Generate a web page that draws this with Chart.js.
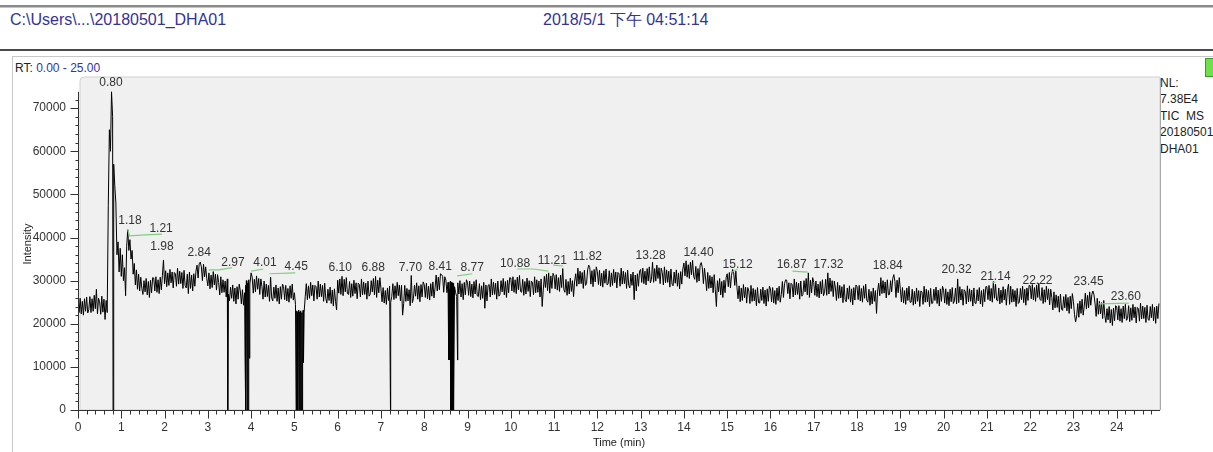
<!DOCTYPE html>
<html>
<head>
<meta charset="utf-8">
<title>TIC 20180501_DHA01</title>
<script src="https://cdn.jsdelivr.net/npm/chart.js@4.4.1/dist/chart.umd.min.js"></script>
<style>
  body { margin: 0; background: #fff; width: 1213px; height: 452px; overflow: hidden; position: relative;
         font-family: "Liberation Sans", Arial, sans-serif; }
  .abs { position: absolute; white-space: pre; }
  #bar1 { left: 0; top: 5px; width: 1213px; height: 2px; background: #8a8a8a; border-bottom: 1px solid #c4c4c4; }
  #file, #stamp { top: 11px; font-size: 16px; line-height: 18px; color: #33339a; }
  #file { left: 10px; }
  #stamp { left: 543px; }
  #bar2 { left: 0; top: 49px; width: 1213px; height: 2px; background: #4a4a4a; }
  #box { left: 12px; top: 56px; width: 1210px; height: 400px; border: 1px solid #c8c8c8; }
  #rt { left: 15px; top: 61px; font-size: 12px; line-height: 14px; color: #222; }
  #rt span { color: #3333aa; }
  #badge { left: 1205px; top: 58px; width: 10px; height: 17px; background: #6fe04c; border: 1px solid #3d9a2a; }
  #nl { left: 1160px; top: 75px; font-size: 12px; line-height: 16.4px; color: #222; }
  #c { position: absolute; left: 0; top: 0; }
</style>
</head>
<body>
<div class="abs" id="bar1"></div>
<div class="abs" id="file">C:\Users\...\20180501_DHA01</div>
<div class="abs" id="stamp">2018/5/1 下午 04:51:14</div>
<div class="abs" id="bar2"></div>
<div class="abs" id="box"></div>
<div class="abs" id="rt">RT: <span>0.00 - 25.00</span></div>
<div class="abs" id="badge"></div>
<div class="abs" id="nl">NL:
7.38E4
TIC  MS
20180501
DHA01</div>
<canvas id="c" width="1213" height="452"></canvas>
<script>
// one scan every 0.025 min, intensity in thousands of counts, one row per minute
const scanStep = 0.025;
const ticK = [
  25.6, 22.6, 25.9, 22.3, 25.2, 22.0, 25.8, 22.9, 26.2, 22.5, 23.3, 26.3, 22.6, 25.8, 22.9, 26.6, 23.5, 28.0, 22.3, 25.9,
  25.1, 22.2, 26.4, 22.7, 25.7, 21.0, 25.4, 22.6, 47.5, 65.0, 60.0, 73.8, 68.0, 57.0, 52.0, 48.0, 36.0, 39.0, 32.0, 37.5,
  31.0, 36.0, 30.0, 33.0, 26.5, 38.0, 41.8, 37.0, 39.5, 35.0, 37.0, 31.5, 34.0, 29.0, 32.5, 28.0, 31.5, 27.6, 30.8, 28.2,
  26.8, 30.0, 27.4, 30.5, 26.7, 29.8, 26.1, 30.1, 27.2, 30.7, 30.6, 27.6, 30.9, 27.3, 30.2, 27.0, 30.8, 27.9, 31.2, 34.8,
  29.3, 32.3, 28.6, 31.8, 28.9, 32.6, 29.5, 32.0, 28.3, 31.9, 31.6, 28.7, 32.9, 29.2, 32.2, 29.3, 31.9, 28.2, 32.4, 28.9,
  28.3, 31.5, 27.0, 32.0, 28.2, 31.3, 27.6, 31.6, 28.7, 32.2, 33.6, 30.6, 33.9, 34.3, 33.2, 30.0, 33.8, 30.9, 33.2, 30.5,
  28.8, 31.8, 28.1, 31.3, 28.4, 32.1, 29.0, 31.5, 27.8, 31.4, 29.6, 26.7, 30.9, 27.2, 30.2, 27.3, 29.9, 26.2, 30.4, 26.9,
  25.3, 28.5, 25.9, 29.0, 25.2, 28.3, 24.6, 28.6, 25.7, 29.2, 27.6, 24.6, 27.9, 24.3, 27.2, 24.0, 27.8, 24.9, 28.2, 29.5,
  31.8, 30.8, 27.1, 30.3, 27.4, 31.1, 28.0, 30.5, 26.8, 30.4, 28.6, 25.7, 29.9, 26.2, 29.2, 26.3, 28.9, 25.2, 30.8, 26.0,
  25.3, 28.5, 25.9, 29.0, 25.2, 28.3, 24.6, 28.6, 25.7, 29.2, 28.6, 25.6, 28.9, 25.3, 28.2, 25.0, 28.8, 25.9, 29.2, 25.5,
  27.2, 24.5, 23.0, 22.6, 23.2, 22.8, 23.0, 22.5, 23.1, 22.7, 26.3, 29.3, 25.6, 28.8, 25.9, 29.6, 26.5, 29.0, 25.3, 28.9,
  28.6, 25.7, 29.9, 26.2, 29.2, 26.3, 28.9, 25.2, 29.4, 25.9, 24.8, 28.0, 25.4, 28.5, 24.7, 27.8, 24.1, 28.1, 25.2, 23.2,
  30.1, 27.1, 30.4, 26.8, 31.0, 26.5, 30.3, 27.4, 30.7, 27.0, 26.8, 29.8, 26.1, 29.3, 26.4, 30.1, 27.0, 29.5, 25.8, 29.4,
  29.1, 26.2, 30.4, 26.7, 29.7, 26.8, 29.4, 25.7, 29.9, 26.4, 26.8, 30.0, 27.4, 30.5, 26.7, 31.0, 26.1, 30.1, 27.2, 30.7,
  28.1, 25.1, 28.4, 24.8, 27.7, 24.5, 28.3, 25.4, 28.7, 25.0, 26.3, 29.3, 25.6, 28.8, 25.9, 29.6, 26.5, 29.0, 25.3, 28.9,
  22.0, 24.7, 28.9, 25.2, 28.2, 25.3, 27.9, 24.2, 31.2, 24.9, 25.8, 29.0, 26.4, 29.5, 25.7, 28.8, 25.1, 29.1, 26.2, 29.7,
  29.1, 26.1, 29.4, 25.8, 28.7, 25.5, 29.3, 26.4, 29.7, 26.0, 28.3, 31.3, 27.6, 30.8, 27.9, 31.6, 31.4, 31.0, 27.3, 30.9,
  30.1, 27.2, 29.6, 28.0, 29.8, 27.4, 29.5, 27.0, 28.6, 27.2, 26.3, 29.5, 26.9, 30.0, 26.2, 29.3, 25.6, 29.6, 26.7, 30.2,
  29.6, 26.6, 29.9, 26.3, 29.2, 26.0, 29.8, 26.9, 30.2, 26.5, 26.3, 29.3, 25.6, 28.8, 25.9, 29.6, 23.6, 29.0, 25.3, 28.9,
  29.1, 26.2, 30.4, 26.7, 29.7, 26.8, 29.4, 25.7, 29.9, 26.4, 26.8, 30.0, 27.4, 30.5, 26.7, 29.8, 26.1, 30.1, 27.2, 30.7,
  30.6, 27.6, 30.9, 27.3, 30.2, 27.0, 30.8, 27.9, 31.2, 27.5, 27.3, 30.3, 26.6, 29.8, 26.9, 30.6, 27.5, 30.0, 26.3, 29.9,
  29.6, 26.7, 30.9, 27.2, 30.2, 27.3, 29.9, 26.2, 30.4, 24.0, 27.8, 31.0, 28.4, 31.5, 27.7, 31.8, 27.1, 31.1, 28.2, 31.7,
  31.1, 28.1, 31.4, 27.8, 30.7, 27.5, 31.3, 28.4, 32.8, 28.0, 27.3, 30.3, 26.6, 29.8, 26.9, 30.6, 27.5, 30.0, 26.3, 29.9,
  31.6, 28.7, 32.9, 29.2, 32.2, 29.3, 31.9, 28.2, 32.4, 28.9, 29.3, 32.5, 33.6, 33.0, 29.2, 32.3, 28.6, 32.6, 29.7, 33.2,
  32.1, 29.1, 32.4, 28.8, 31.7, 28.5, 32.3, 29.4, 32.7, 29.0, 29.3, 32.3, 28.6, 31.8, 28.9, 32.6, 29.5, 32.0, 28.3, 31.9,
  31.6, 28.7, 32.9, 29.2, 32.2, 29.3, 31.9, 28.2, 32.4, 28.9, 28.3, 31.5, 28.9, 32.0, 25.6, 31.3, 27.6, 31.6, 28.7, 32.2,
  32.6, 29.6, 32.9, 29.3, 32.2, 29.0, 32.8, 29.9, 33.2, 29.5, 30.3, 34.3, 29.6, 32.8, 29.9, 33.6, 30.5, 33.0, 29.3, 32.9,
  31.9, 29.0, 33.2, 29.5, 32.5, 29.6, 32.2, 28.5, 32.7, 29.2, 28.8, 32.0, 29.4, 32.5, 28.7, 31.8, 28.1, 32.1, 29.2, 32.7,
  34.1, 31.1, 34.6, 30.8, 33.7, 30.5, 34.3, 31.4, 34.7, 31.0, 30.3, 33.3, 29.6, 32.8, 29.9, 33.6, 34.2, 33.0, 29.3, 32.9,
  30.6, 27.7, 31.9, 28.2, 31.2, 28.3, 30.9, 27.2, 31.4, 27.9, 24.0, 30.0, 27.4, 30.5, 26.7, 29.8, 26.1, 30.1, 27.2, 30.7,
  31.6, 28.6, 31.9, 28.3, 31.2, 32.6, 31.8, 28.9, 32.2, 28.5, 25.8, 28.8, 25.1, 28.3, 25.4, 29.1, 26.0, 28.5, 24.8, 28.4,
  27.6, 24.7, 28.9, 25.2, 28.2, 25.3, 27.9, 24.2, 28.4, 24.9, 24.8, 28.0, 25.4, 28.5, 24.7, 27.8, 24.1, 28.1, 25.2, 28.7,
  28.1, 25.1, 28.4, 24.8, 27.7, 24.5, 28.3, 25.4, 28.7, 25.0, 26.8, 29.8, 26.1, 29.3, 30.2, 30.1, 27.0, 29.5, 25.8, 29.4,
  29.1, 26.2, 30.4, 26.7, 29.7, 26.8, 29.4, 25.7, 29.9, 26.4, 26.8, 30.0, 27.4, 30.5, 26.7, 31.8, 26.1, 30.1, 27.2, 30.7,
  29.6, 26.6, 29.9, 26.3, 29.2, 26.0, 29.8, 26.9, 30.2, 26.5, 27.3, 30.3, 26.6, 31.8, 26.9, 30.6, 27.5, 30.0, 26.3, 29.9,
  28.3, 25.4, 29.6, 25.9, 28.9, 26.0, 28.6, 24.9, 29.1, 25.6, 25.1, 28.3, 25.7, 28.8, 25.0, 28.1, 24.4, 28.4, 25.5, 29.0,
  28.6, 25.6, 28.9, 25.3, 28.2, 25.0, 28.8, 25.9, 29.2, 25.5, 25.0, 28.0, 24.3, 27.5, 24.6, 28.3, 25.2, 27.7, 22.4, 27.6,
  29.4, 26.5, 30.7, 27.0, 30.0, 27.1, 29.7, 26.0, 30.2, 26.7, 26.8, 30.0, 27.4, 30.5, 31.4, 29.8, 26.1, 30.1, 27.2, 30.7,
  28.1, 25.1, 28.4, 24.8, 27.7, 24.5, 28.3, 25.4, 28.7, 25.0, 25.0, 28.0, 24.3, 27.5, 24.6, 28.3, 25.2, 27.7, 24.0, 27.6,
  27.4, 24.5, 28.7, 25.0, 28.0, 25.1, 27.7, 24.0, 28.2, 24.7, 24.8, 28.0, 25.4, 28.5, 24.7, 27.8, 24.1, 28.1, 25.2, 28.7,
  27.8, 24.8, 28.1, 24.5, 27.4, 24.2, 28.0, 25.1, 28.4, 24.7, 25.3, 28.3, 24.6, 30.4, 24.9, 28.6, 25.5, 28.0, 24.3, 27.9,
  27.5, 24.6, 28.8, 25.1, 28.1, 25.2, 27.8, 24.1, 28.3, 24.8, 24.7, 27.9, 25.3, 28.4, 24.6, 27.7, 24.0, 28.0, 25.1, 28.6,
  28.6, 25.6, 28.9, 25.3, 28.2, 25.0, 29.8, 25.9, 29.2, 25.5, 25.3, 28.3, 24.6, 27.8, 24.9, 28.6, 25.5, 28.0, 24.3, 27.9,
  29.2, 24.5, 28.7, 25.0, 28.0, 25.1, 27.7, 24.0, 28.2, 24.7, 25.0, 28.2, 25.6, 28.7, 24.9, 28.0, 24.3, 28.3, 25.4, 28.9,
  28.8, 25.8, 29.1, 25.5, 28.4, 25.2, 29.0, 26.1, 29.4, 25.7, 25.4, 28.4, 24.7, 27.9, 25.0, 28.7, 25.6, 28.1, 24.4, 28.0,
  26.1, 23.2, 27.4, 23.7, 26.7, 23.8, 26.4, 22.7, 26.9, 23.4, 23.1, 26.3, 23.7, 26.8, 23.0, 26.1, 22.4, 26.4, 23.5, 27.0,
  25.1, 22.1, 20.4, 21.8, 24.7, 21.5, 25.3, 22.4, 25.7, 22.0, 24.1, 27.1, 23.4, 26.6, 23.7, 27.4, 24.3, 26.8, 27.6, 26.7,
  24.6, 21.7, 25.9, 22.2, 25.2, 22.3, 24.9, 21.2, 25.4, 21.9, 20.3, 23.5, 20.9, 24.0, 20.2, 23.3, 19.6, 23.6, 20.7, 24.2,
  23.9, 20.9, 24.2, 20.6, 23.5, 20.3, 24.1, 21.2, 24.5, 20.8, 21.2, 24.2, 20.5, 23.7, 20.8, 24.5, 21.4, 23.9, 20.2, 23.8,
  23.5, 20.6, 24.8, 21.1, 24.1, 21.2, 23.8, 20.3, 24.3, 21.0, 20.8, 24.0, 21.4, 24.5, 20.7, 23.8, 20.1, 24.1, 21.2, 24.7
];

// extra scans where the signal drops out (min / thousands)
const dropT = [0.81, 3.46, 3.86, 3.87, 3.88, 3.89, 3.91, 3.92, 3.93, 3.94, 3.96, 3.97,
  5.04, 5.06, 5.07, 5.08, 5.09, 5.11, 5.12, 5.13, 5.14, 5.16, 5.17, 5.18, 5.19, 5.21,
  7.22, 8.56, 8.57, 8.58, 8.61, 8.62, 8.63, 8.64, 8.66, 8.67, 8.68, 8.77];
const dropK = [0, 0, 12.0, 29.0, 0, 30.0, 0, 29.5, 0, 30.2, 12.0, 29.0,
  0, 0, 22.6, 0, 23.0, 0, 22.8, 0, 22.4, 0, 22.6, 0, 10.9, 10.9,
  0, 11.6, 29.5, 11.6, 0, 29.6, 0, 29.2, 0, 29.4, 0, 11.6];

// peak labels: text, where it sits (min), height (thousands)
const peakText = ['0.80', '1.18', '1.21', '1.98', '2.84', '2.97', '4.01', '4.45', '6.10', '6.88', '7.70', '8.41', '8.77',
  '10.88', '11.21', '11.82', '13.28', '14.40', '15.12', '16.87', '17.32', '18.84', '20.32', '21.14', '22.22', '23.45', '23.60'];
const peakLabelRT = [0.76, 1.20, 1.92, 1.94, 2.80, 3.58, 4.32, 5.04, 6.06, 6.82, 7.68, 8.37, 9.11,
  10.10, 10.96, 11.77, 13.23, 14.34, 15.24, 16.49, 17.34, 18.71, 20.30, 21.20, 22.17, 23.35, 24.21];
const peakLabelK = [75.9, 43.8, 42.0, 37.8, 36.4, 34.1, 34.1, 33.2, 32.9, 32.9, 32.9, 33.2, 32.9,
  33.9, 34.6, 35.5, 35.7, 36.4, 33.6, 33.6, 33.6, 33.4, 32.5, 30.9, 29.9, 29.7, 26.2];

// green baselines under integrated peaks
const baseT = [[1.15, 1.19, 1.55, 1.94], [3.02, 3.25, 3.56], [4.00, 4.28], [4.42, 5.02], [8.76, 9.11],
  [10.15, 10.52, 10.87], [10.98, 11.21], [15.12, 15.24], [16.51, 16.86], [21.13, 21.20], [23.58, 24.28]];
const baseK = [[41.8, 40.4, 40.6, 40.8], [32.5, 32.5, 33.0], [32.2, 32.7], [31.6, 31.8], [31.1, 31.6],
  [32.7, 32.7, 32.2], [33.6, 33.4], [32.0, 32.7], [32.2, 32.0], [29.5, 29.7], [24.6, 24.8]];

const xTickLabels = [0, 1, 2, 3, 4, 5, 6, 7, 8, 9, 10, 11, 12, 13, 14, 15, 16, 17, 18, 19, 20, 21, 22, 23, 24];
const yTickLabels = [0, 10000, 20000, 30000, 40000, 50000, 60000, 70000];
const nlIntensity = 73800;

const FONT = '"Liberation Sans", Arial, sans-serif';

const trace = ticK.map((k, i) => ({ x: Math.round(i * scanStep * 1000) / 1000, y: k * 1000 }))
  .concat(dropT.map((t, i) => ({ x: t, y: dropK[i] * 1000 })))
  .sort((a, b) => a.x - b.x);

const baseSets = baseT.map((ts, j) => ({
  data: ts.map((t, i) => ({ x: t, y: baseK[j][i] * 1000 })),
  borderColor: '#7fcf7f',
  borderWidth: 1.2,
  pointRadius: 0
}));

// plot frame, axes with minor ticks, peak labels
const chromPlugin = {
  id: 'chrom',
  beforeDatasetsDraw(chart) {
    const { ctx, chartArea: a } = chart;
    ctx.save();
    ctx.fillStyle = '#f0f0f0';
    ctx.beginPath();
    ctx.roundRect(a.left + 2, a.top - 1, a.right - a.left - 2, a.bottom - a.top + 1, [4, 0, 0, 0]);
    ctx.fill();
    ctx.strokeStyle = '#d0d0d0';
    ctx.lineWidth = 1;
    ctx.stroke();
    ctx.strokeStyle = '#a8a8a8';
    ctx.beginPath();
    ctx.moveTo(a.right + 0.5, a.top);
    ctx.lineTo(a.right + 0.5, a.bottom);
    ctx.stroke();
    ctx.restore();
  },
  afterDatasetsDraw(chart) {
    const { ctx, chartArea: a, scales: { x, y } } = chart;
    ctx.save();
    ctx.strokeStyle = '#333';
    ctx.lineWidth = 1;
    ctx.beginPath();
    // y axis
    const x0 = Math.round(x.getPixelForValue(0)) + 0.5;
    ctx.moveTo(x0, y.getPixelForValue(nlIntensity));
    ctx.lineTo(x0, y.getPixelForValue(0));
    for (let i = 0; i < yTickLabels.length; i++) {
      const v = yTickLabels[i];
      const py = Math.round(y.getPixelForValue(v)) + 0.5;
      ctx.moveTo(x0 - 8, py); ctx.lineTo(x0, py);
      for (let m = 1; m < 5; m++) {
        const vm = v + m * 2000;
        if (vm > nlIntensity) break;
        const pm = Math.round(y.getPixelForValue(vm)) + 0.5;
        ctx.moveTo(x0 - 3, pm); ctx.lineTo(x0, pm);
      }
    }
    // x axis
    const y0 = Math.round(y.getPixelForValue(0)) + 0.5;
    ctx.moveTo(a.left, y0);
    ctx.lineTo(a.right, y0);
    for (let i = 0; i < xTickLabels.length; i++) {
      const t = xTickLabels[i];
      const px = Math.round(x.getPixelForValue(t)) + 0.5;
      ctx.moveTo(px, y0); ctx.lineTo(px, y0 + 8);
      for (let m = 1; m < 5; m++) {
        const pm = Math.round(x.getPixelForValue(t + m * 0.2)) + 0.5;
        ctx.moveTo(pm, y0); ctx.lineTo(pm, y0 + 4);
      }
    }
    ctx.stroke();

    // peak labels
    ctx.fillStyle = '#333';
    ctx.font = '12px ' + FONT;
    ctx.textAlign = 'center';
    ctx.textBaseline = 'middle';
    peakText.forEach((txt, i) => {
      ctx.fillText(txt, x.getPixelForValue(peakLabelRT[i]), y.getPixelForValue(peakLabelK[i] * 1000));
    });
    ctx.restore();
  }
};

new Chart(document.getElementById('c'), {
  type: 'line',
  data: {
    datasets: baseSets.concat([{
      data: trace,
      borderColor: '#000',
      borderWidth: 1,
      pointRadius: 0,
      tension: 0
    }])
  },
  options: {
    responsive: false,
    animation: false,
    events: [],
    parsing: false,
    layout: { padding: { top: 78, right: 53, left: 0, bottom: 0 } },
    plugins: { legend: { display: false }, tooltip: { enabled: false } },
    scales: {
      x: {
        type: 'linear', min: 0, max: 25,
        grid: { display: false, drawTicks: false },
        border: { display: false },
        afterBuildTicks: s => { s.ticks = xTickLabels.map(v => ({ value: v })); },
        afterFit: s => { s.height = 42; },
        ticks: { font: { size: 12, family: FONT }, color: '#333', padding: 10, maxRotation: 0, autoSkip: false,
                 callback: v => String(v) },
        title: { display: true, text: 'Time (min)', font: { size: 11, family: FONT }, color: '#222', padding: { top: 0, bottom: 2 } }
      },
      y: {
        type: 'linear', min: 0, max: 77000,
        grid: { display: false, drawTicks: false },
        border: { display: false },
        afterBuildTicks: s => { s.ticks = yTickLabels.map(v => ({ value: v })); },
        afterFit: s => { s.width = 78; },
        ticks: { font: { size: 12, family: FONT }, color: '#333', padding: 12, callback: v => String(v) },
        title: { display: true, text: 'Intensity', font: { size: 11, family: FONT }, color: '#222', padding: { top: 21, bottom: 0 } }
      }
    }
  },
  plugins: [chromPlugin]
});
</script>
</body>
</html>
